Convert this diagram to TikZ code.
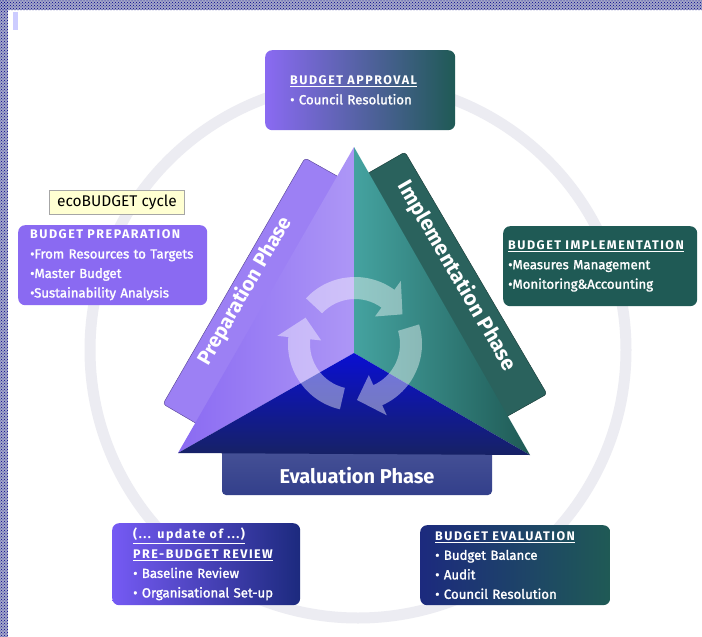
\documentclass[tikz,border=0pt]{standalone}
\usepackage{fontspec}
\setmainfont{Fira Sans}
\newfontfamily\titlefont{Fira Sans}[LetterSpace=12]
\newfontfamily\itemfont{Fira Sans}[FakeBold=1.6]
\usetikzlibrary{patterns}
\usepackage{xcolor}

\definecolor{prepPurple}{HTML}{8A6AF2}
\definecolor{implTeal}{HTML}{1F5A55}
\definecolor{evalNavy}{HTML}{1C2A7E}
\definecolor{ringGray}{HTML}{ECECF2}
\definecolor{tipYellow}{HTML}{FFFFD2}
\definecolor{frameBlue}{HTML}{A3A6C8}

\newcommand\boxtitle[1]{{\titlefont\bfseries\fontsize{12.5}{19.5}\selectfont #1}}

\newcommand\cyclearrow[2]{%
  \fill[cyclefill] ([shift={(hub)}]#1:67) arc[start angle=#1, end angle=#2-22, radius=67]
    -- ([shift={(hub)}]#2-22:78) -- ([shift={(hub)}]#2:56) -- ([shift={(hub)}]#2-22:34)
    -- ([shift={(hub)}]#2-22:45) arc[start angle=#2-22, end angle=#1, radius=45] -- cycle;}

\tikzset{
  infobox/.style={rounded corners=7pt, minimum height=80pt, inner ysep=0pt,
    align=left, anchor=north west, text=white, font=\itemfont\fontsize{13.2}{19.5}\selectfont},
  bandtext/.style={text=white, font=\bfseries\fontsize{20}{24}\selectfont},
  cyclefill/.style={white, opacity=0.42}
}

\begin{document}
\begin{tikzpicture}[x=1pt,y=-1pt]
\useasboundingbox (0,0) rectangle (702,637);
\fill[white] (0,0) rectangle (702,637);

% outer ring
\draw[ringGray, line width=11pt] (358,350) circle[radius=268];

% main points
\coordinate (apex) at (354,147);
\coordinate (bl) at (178,453);
\coordinate (br) at (530,455);
\coordinate (mid) at (354,353);
\coordinate (hub) at (355,344);

% phase bands
\filldraw[fill=prepPurple!85!white, draw=prepPurple!60!black, rounded corners=3pt]
  (204,428) -- (163,404) -- (305,158) -- (346,181) -- cycle;
\filldraw[fill=implTeal!95!white, draw=implTeal!60!black, rounded corners=3pt]
  (499,421) -- (547,394) -- (405,152) -- (358,179) -- cycle;
\shade[top color=evalNavy!80!white, bottom color=evalNavy!90!white, rounded corners=4pt]
  (222,440) rectangle (492,495);

% triangle
\shade[left color=prepPurple, right color=prepPurple!70!white] (apex) -- (mid) -- (bl) -- cycle;
\shade[left color=implTeal!70!cyan!80!white, right color=implTeal] (apex) -- (mid) -- (br) -- cycle;
\shade[top color=blue!65!evalNavy, bottom color=evalNavy!80!black] (bl) -- (mid) -- (br) -- cycle;

% cycle arrows
\cyclearrow{103}{208}
\cyclearrow{223}{328}
\cyclearrow{343}{448}

% band labels
\node[bandtext, rotate=60] (prepLabel) at (245,291) {Preparation Phase};
\node[bandtext, rotate=-60, font=\bfseries\fontsize{21}{24}\selectfont] (implLabel) at (457,276) {Implementation Phase};
\node[bandtext] (evalLabel) at (357,476) {Evaluation Phase};

% boxes
\node[infobox, text width=140pt, inner xsep=25pt, left color=prepPurple, right color=implTeal] (approval) at (265,50)
  {\boxtitle{\underline{BUDGET APPROVAL}}\\
   • Council Resolution};
\node[infobox, text width=165pt, inner xsep=12pt, fill=prepPurple] (preparation) at (18,225)
  {\boxtitle{BUDGET PREPARATION}\\
   •From Resources to Targets\\ •Master Budget\\ •Sustainability Analysis};
\node[infobox, text width=184pt, inner xsep=5pt, fill=implTeal] (implementation) at (503,226)
  {\boxtitle{\underline{BUDGET IMPLEMENTATION}}\\
   •Measures Management\\ •Monitoring\&Accounting};
\node[infobox, text width=146pt, minimum height=82pt, inner xsep=21pt,
  left color=prepPurple!85!blue, right color=evalNavy] (review) at (112,523)
  {\boxtitle{\underline{(... update of ...)}}\\
   \boxtitle{\underline{PRE-BUDGET REVIEW}}\\
   • Baseline Review\\ \mbox{• Organisational Set-up}};
\node[infobox, text width=160pt, inner xsep=15pt, left color=evalNavy, right color=implTeal] (evaluation) at (420,525)
  {\boxtitle{\underline{BUDGET EVALUATION}}\\
   • Budget Balance\\ • Audit\\ • Council Resolution};

% tooltip
\node[fill=tipYellow, draw=black!35, minimum width=135pt, minimum height=24pt, inner sep=2pt,
  font=\fontsize{15.5}{16}\selectfont] (tooltip) at (117,202) {ecoBUDGET cycle};

% window frame
\fill[frameBlue] (0,0) rectangle (702,10);
\fill[frameBlue] (0,0) rectangle (8,637);
\fill[pattern=crosshatch dots, pattern color=blue!55!black] (0,0) rectangle (702,10);
\fill[pattern=crosshatch dots, pattern color=blue!55!black] (0,0) rectangle (8,637);
\fill[blue!20] (13,12) rectangle (18,30);
\end{tikzpicture}
\end{document}
